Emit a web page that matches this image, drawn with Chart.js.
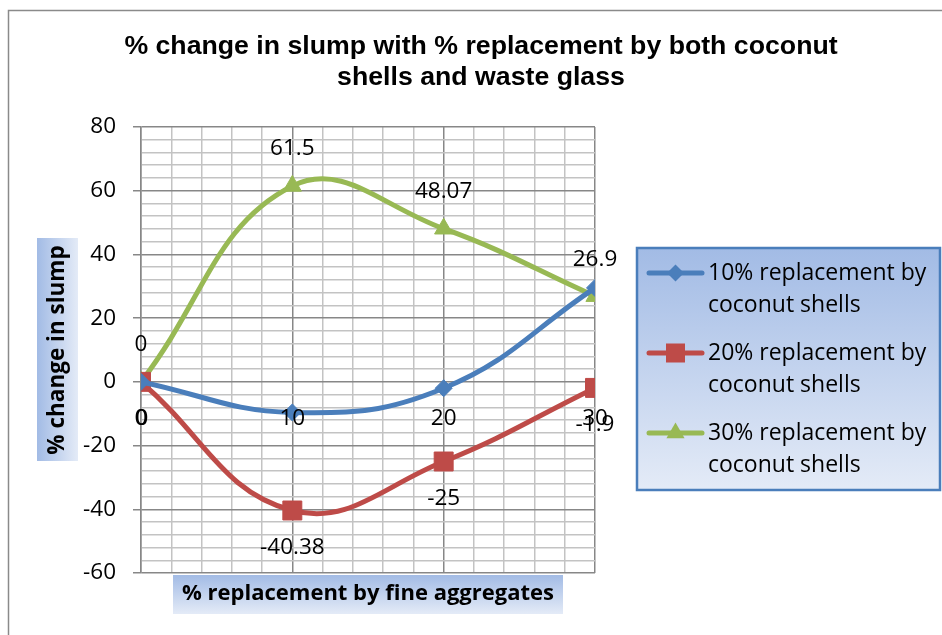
<!DOCTYPE html>
<html><head><meta charset="utf-8">
<script src="https://cdn.jsdelivr.net/npm/chart.js@4.4.0/dist/chart.umd.min.js"></script>
<style>html,body{margin:0;padding:0;background:#fff;} canvas{display:block;}</style>
</head><body>
<canvas id="c" width="942" height="635"></canvas>
<script>
// ---- data ----
const xValues = [0, 10, 20, 30];
const series10 = [0, -9.6, -2, 29.5];
const series20 = [0, -40.38, -25, -1.9];
const series30 = [0, 61.5, 48.07, 26.9];
const labels20 = ['0', '-40.38', '-25', '-1.9'];
const labels30 = ['0', '61.5', '48.07', '26.9'];
const seriesNames = ['10% replacement by coconut shells', '20% replacement by coconut shells', '30% replacement by coconut shells'];
const legendLines = [['10% replacement by', 'coconut shells'], ['20% replacement by', 'coconut shells'], ['30% replacement by', 'coconut shells']];
const titleLines = ['% change in slump with % replacement by both coconut', 'shells and waste glass'];
const xTitle = '% replacement by fine aggregates';
const yTitle = '% change in slump';
const yMajorTicks = [-60, -40, -20, 0, 20, 40, 60, 80];
const xMajorTicks = [0, 10, 20, 30];

const colors = ['#4a7ebb', '#be4b48', '#98b954'];
const styles = ['rectRot', 'rect', 'triangle'];
const FONT = '"Open Sans", "DejaVu Sans", sans-serif';

const toPts = ys => xValues.map((x, i) => ({x: x, y: ys[i]}));

function markerPath(ctx, style, x, y) {
  ctx.beginPath();
  if (style === 'rectRot') {
    const r = 8.5;
    ctx.moveTo(x, y - r); ctx.lineTo(x + r, y); ctx.lineTo(x, y + r); ctx.lineTo(x - r, y); ctx.closePath();
  } else if (style === 'rect') {
    const h = 9.5;
    ctx.rect(x - h, y - h, 2 * h, 2 * h);
  } else {
    const r = 10.5;
    ctx.moveTo(x, y - r);
    ctx.lineTo(x + r * Math.sin(2 * Math.PI / 3), y - r * Math.cos(2 * Math.PI / 3));
    ctx.lineTo(x + r * Math.sin(4 * Math.PI / 3), y - r * Math.cos(4 * Math.PI / 3));
    ctx.closePath();
  }
}

function vGrad(ctx, x, y, w, h, horizontal) {
  const g = horizontal ? ctx.createLinearGradient(x, 0, x + w, 0) : ctx.createLinearGradient(0, y, 0, y + h);
  g.addColorStop(0, '#a2bbe5');
  g.addColorStop(1, '#e4ebf7');
  return g;
}

const decor = {
  id: 'decor',
  beforeDraw(chart) {
    const ctx = chart.ctx;
    ctx.save();
    ctx.fillStyle = '#ffffff';
    ctx.fillRect(0, 0, chart.width, chart.height);
    ctx.strokeStyle = '#8a8a8a';
    ctx.lineWidth = 1.5;
    ctx.beginPath();
    ctx.moveTo(8.5, 640); ctx.lineTo(8.5, 10.5); ctx.lineTo(945, 10.5);
    ctx.stroke();
    ctx.restore();
  },
  afterDatasetsDraw(chart) {
    const ctx = chart.ctx;
    ctx.save();
    ctx.font = '22.5px ' + FONT;
    ctx.fillStyle = '#000';
    ctx.textAlign = 'center';
    ctx.textBaseline = 'middle';
    const m2 = chart.getDatasetMeta(1), m3 = chart.getDatasetMeta(2);
    m2.data.forEach((p, i) => ctx.fillText(labels20[i], p.x + (i === 0 ? 1 : 0), p.y + 37));
    m3.data.forEach((p, i) => ctx.fillText(labels30[i], p.x, p.y - 37));
    ctx.restore();
  },
  afterDraw(chart) {
    const ctx = chart.ctx;
    ctx.save();
    // title
    ctx.fillStyle = '#000';
    ctx.font = 'bold 26.7px "Liberation Sans", Arial, sans-serif';
    ctx.textAlign = 'center';
    ctx.textBaseline = 'middle';
    ctx.fillText(titleLines[0], 481, 47);
    ctx.fillText(titleLines[1], 481, 78);

    // y axis title
    ctx.fillStyle = vGrad(ctx, 37, 238, 41, 223, true);
    ctx.fillRect(37, 238, 41, 223);
    ctx.save();
    ctx.translate(58, 350);
    ctx.rotate(-Math.PI / 2);
    ctx.fillStyle = '#000';
    ctx.font = 'bold 22.5px ' + FONT;
    ctx.fillText(yTitle, 0, 0);
    ctx.restore();

    // x axis title
    ctx.fillStyle = vGrad(ctx, 173, 575, 390, 39, false);
    ctx.fillRect(173, 575, 390, 39);
    ctx.fillStyle = '#000';
    ctx.font = 'bold 22px ' + FONT;
    ctx.fillText(xTitle, 368, 594);

    // legend
    const lx = 637, ly = 248, lw = 303, lh = 242;
    ctx.fillStyle = vGrad(ctx, lx, ly, lw, lh, false);
    ctx.fillRect(lx, ly, lw, lh);
    ctx.strokeStyle = '#4a7ebb';
    ctx.lineWidth = 2.5;
    ctx.strokeRect(lx, ly, lw, lh);
    ctx.font = '23px ' + FONT;
    ctx.textAlign = 'left';
    legendLines.forEach((lines, i) => {
      const y = 273 + i * 80;
      ctx.strokeStyle = colors[i];
      ctx.lineWidth = 5;
      ctx.lineCap = 'round';
      ctx.beginPath(); ctx.moveTo(649, y); ctx.lineTo(702, y); ctx.stroke();
      ctx.fillStyle = colors[i];
      markerPath(ctx, styles[i], 675.5, y);
      ctx.fill();
      ctx.fillStyle = '#000';
      ctx.fillText(lines[0], 708, y);
      ctx.fillText(lines[1], 708, y + 32);
    });
    ctx.restore();
  }
};

const dataSets = [series10, series20, series30].map((s, i) => ({
  label: seriesNames[i],
  data: toPts(s),
  showLine: true,
  borderColor: colors[i],
  backgroundColor: colors[i],
  borderWidth: 5,
  tension: 0.42,
  pointStyle: styles[i],
  pointRadius: [8.5, 13.4, 10.5][i],
  pointBorderWidth: 1,
  pointBorderColor: colors[i],
  pointBackgroundColor: colors[i]
}));

const isMajor = (v, list) => list.indexOf(v) >= 0;

new Chart(document.getElementById('c').getContext('2d'), {
  type: 'scatter',
  data: {datasets: dataSets},
  options: {
    responsive: false,
    animation: false,
    devicePixelRatio: 1,
    layout: {padding: {left: 41, right: 347, top: 127, bottom: 62}},
    plugins: {legend: {display: false}, tooltip: {enabled: false}, title: {display: false}},
    scales: {
      x: {
        type: 'linear',
        position: {y: 0},
        min: 0, max: 30,
        ticks: {
          stepSize: 2, autoSkip: false, maxRotation: 0, padding: 23, z: 1,
          color: '#000', font: {family: FONT, size: 22.5},
          callback: v => isMajor(v, xMajorTicks) ? String(v) : ''
        },
        grid: {
          drawTicks: false,
          color: c => (c.tick && isMajor(c.tick.value, xMajorTicks)) ? '#878787' : '#c3c3c3',
          lineWidth: 1.5
        },
        border: {display: false}
      },
      y: {
        min: -60, max: 80,
        ticks: {
          stepSize: 4, autoSkip: false, padding: 17,
          color: '#000', font: {family: FONT, size: 22.5},
          callback: v => isMajor(v, yMajorTicks) ? String(v) : ''
        },
        grid: {
          tickLength: 8,
          color: c => (c.tick && isMajor(c.tick.value, yMajorTicks)) ? '#878787' : '#c3c3c3',
          tickColor: c => (c.tick && isMajor(c.tick.value, yMajorTicks)) ? '#878787' : 'rgba(0,0,0,0)',
          lineWidth: 1.5
        },
        border: {color: '#878787', width: 1.5},
        afterFit(s) { s.width = 100; }
      }
    }
  },
  plugins: [decor]
});
</script>
</body></html>
